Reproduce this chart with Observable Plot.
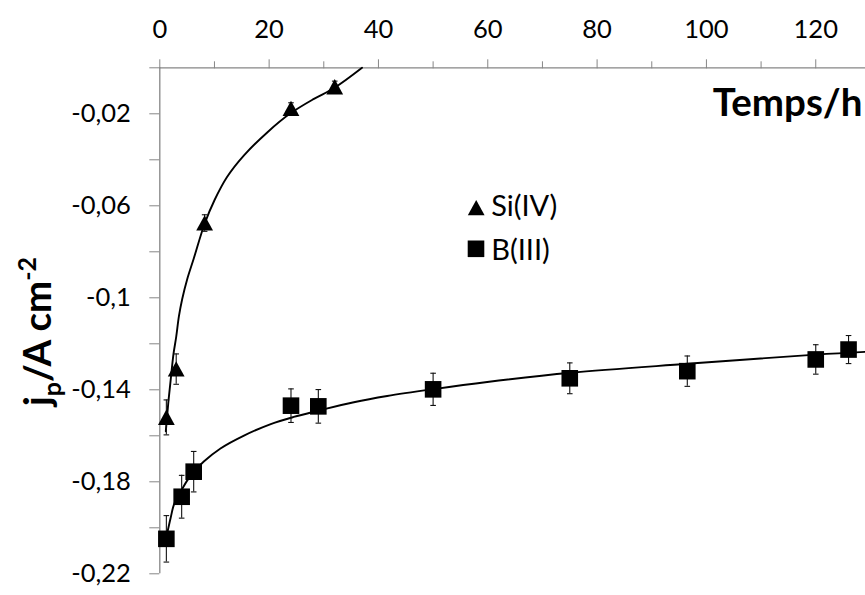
<!DOCTYPE html>
<html>
<head>
<meta charset="utf-8">
<script src="https://cdn.jsdelivr.net/npm/d3@7"></script>
<script src="https://cdn.jsdelivr.net/npm/@observablehq/plot@0.6"></script>
<style>
  html, body { margin: 0; padding: 0; background: #fff; }
  #chart { width: 865px; height: 595px; overflow: hidden; }
</style>
</head>
<body>
<div id="chart"></div>
<script>
// ---- Data ----
const siTime  = [1.2, 3, 8.2, 24, 32];
const siValue = [-0.152, -0.131, -0.0675, -0.0177, -0.0083];
const siError = [0.0076, 0.0066, 0.0036, 0.0025, 0.0025];

const bTime  = [1.2, 4, 6.2, 24, 29, 50, 75, 96.5, 120, 126];
const bValue = [-0.2048, -0.1865, -0.1756, -0.1469, -0.1472, -0.1398, -0.1350, -0.1319, -0.1268, -0.1225];
const bError = [0.0101, 0.0093, 0.0088, 0.0073, 0.0073, 0.0070, 0.0067, 0.0066, 0.0064, 0.0061];

// trend lines, points
const siCurveTime  = [1.1, 1.3, 1.6, 2, 2.5, 3, 3.5, 4.1, 5, 6.2, 8.2, 10, 12.3, 15.4, 19.7, 23.9, 28.2, 31.9, 37];
const siCurveValue = [-0.158, -0.1525, -0.1445, -0.1355, -0.1245, -0.117, -0.108, -0.1005, -0.092, -0.083, -0.0678, -0.0576, -0.0475, -0.0381, -0.028, -0.0198, -0.0135, -0.0088, 0];

const bCurveTime  = [1.2, 2, 2.57, 3.3, 4, 5, 6, 8.05, 11.1, 15.4, 20.3, 24.5, 28.8, 35.5, 41.6, 50.1, 59.9, 75.2, 96.5, 120, 129.1];
const bCurveValue = [-0.204, -0.1955, -0.190, -0.1865, -0.1835, -0.1795, -0.1763, -0.1712, -0.1655, -0.1599, -0.1549, -0.1518, -0.1492, -0.1454, -0.1427, -0.1397, -0.1366, -0.1326, -0.1287, -0.1247, -0.1235];

const xMajorTicks = [0, 20, 40, 60, 80, 100, 120];
const xTickLabels = ["0", "20", "40", "60", "80", "100", "120"];
const xMinorTicks = [10, 30, 50, 70, 90, 110];

const yTickValues = [0, -0.02, -0.04, -0.06, -0.08, -0.1, -0.12, -0.14, -0.16, -0.18, -0.2, -0.22];
const yTickLabels = ["", "-0,02", "", "-0,06", "", "-0,1", "", "-0,14", "", "-0,18", "", "-0,22"];

const seriesNames = ["Si(IV)", "B(III)"];
const xTitle = "Temps/h";
const yTitleParts = [["j", "base"], ["p", "sub"], ["/A cm", "base"], ["-2", "sup"]];
const yTitle = yTitleParts.map(p => p[0]).join("");

// ---- Build ----
const siPts = siTime.map((t, i) => ({t, v: siValue[i], e: siError[i]}));
const bPts  = bTime.map((t, i) => ({t, v: bValue[i], e: bError[i]}));
const siCurve = siCurveTime.map((t, i) => ({t, v: siCurveValue[i]}));
const bCurve  = bCurveTime.map((t, i) => ({t, v: bCurveValue[i]}));

const xLabelMap = new Map(xMajorTicks.map((d, i) => [d, xTickLabels[i]]));
const yLabelMap = new Map(yTickValues.map((d, i) => [d, yTickLabels[i]]));

const triSym = {draw(ctx) { ctx.moveTo(0, -7.8); ctx.lineTo(8.4, 7.5); ctx.lineTo(-8.4, 7.5); ctx.closePath(); }};
const sqSym  = {draw(ctx) { ctx.rect(-8.3, -8.3, 16.6, 16.6); }};
const capSym = {draw(ctx) { ctx.moveTo(-2.8, 0); ctx.lineTo(2.8, 0); }};

const gray = "#868686";

function errorMarks(pts) {
  return [
    Plot.ruleX(pts, {x: "t", y1: d => d.v - d.e, y2: d => d.v + d.e, stroke: "#111", strokeWidth: 1.1}),
    Plot.dot(pts, {x: "t", y: d => d.v + d.e, symbol: capSym, r: 3, stroke: "#111", fill: "none", strokeWidth: 1.1}),
    Plot.dot(pts, {x: "t", y: d => d.v - d.e, symbol: capSym, r: 3, stroke: "#111", fill: "none", strokeWidth: 1.1})
  ];
}

const plot = Plot.plot({
  width: 865,
  height: 595,
  marginLeft: 159.3,
  marginRight: 0,
  marginTop: 67.3,
  marginBottom: 21.7,
  style: {fontFamily: "Lato, 'Open Sans', sans-serif", fontSize: "25px", color: "#000", background: "#fff", overflow: "visible"},
  x: {domain: [0, 129.1], label: null},
  y: {domain: [-0.22, 0], label: null},
  marks: [
    Plot.ruleY([0], {stroke: gray, strokeWidth: 1.3}),
    Plot.ruleX([0], {stroke: gray, strokeWidth: 1.3}),
    Plot.axisX({anchor: "top", ticks: xMinorTicks, tickSize: 7, tickFormat: () => "", stroke: gray, label: null}),
    Plot.axisX({anchor: "top", ticks: xMajorTicks, tickSize: 9, tickPadding: 21, tickFormat: d => xLabelMap.get(d), stroke: gray, fontSize: 25.5, label: null}),
    Plot.axisY({anchor: "left", ticks: yTickValues, tickSize: 10, tickPadding: 19, tickFormat: d => yLabelMap.get(d) ?? "", stroke: gray, fontSize: 25.5, label: null}),

    Plot.line(siCurve, {x: "t", y: "v", curve: "catmull-rom", stroke: "#000", strokeWidth: 1.9}),
    Plot.line(bCurve,  {x: "t", y: "v", curve: "catmull-rom", stroke: "#000", strokeWidth: 1.9}),

    ...errorMarks(siPts),
    ...errorMarks(bPts),

    Plot.dot(siPts, {x: "t", y: "v", symbol: triSym, r: 6, fill: "#000", stroke: "none"}),
    Plot.dot(bPts,  {x: "t", y: "v", symbol: sqSym,  r: 6, fill: "#000", stroke: "none"}),

    // legend inside plot area
    Plot.dot([seriesNames[0]], {frameAnchor: "top-left", symbol: triSym, r: 6, fill: "#000", stroke: "none", dx: 316.4, dy: 140}),
    Plot.dot([seriesNames[1]], {frameAnchor: "top-left", symbol: sqSym,  r: 6, fill: "#000", stroke: "none", dx: 316.2, dy: 181}),
    Plot.text([seriesNames[0]], {frameAnchor: "top-left", text: d => d, textAnchor: "start", lineAnchor: "middle", dx: 331.4, dy: 139, fontSize: 29}),
    Plot.text([seriesNames[1]], {frameAnchor: "top-left", text: d => d, textAnchor: "start", lineAnchor: "middle", dx: 331.4, dy: 183, fontSize: 29}),

    // axis titles
    Plot.text([xTitle], {frameAnchor: "top-right", text: d => d, textAnchor: "end", lineAnchor: "bottom", dx: -3, dy: 48, fontWeight: "bold", fontSize: 38.5}),
    Plot.text([yTitle], {frameAnchor: "left", text: d => d, rotate: -90, textAnchor: "middle", lineAnchor: "bottom", dx: -109.3, dy: 10.7, fontWeight: "bold", fontSize: 38.5})
  ]
});

// subscript / superscript in the y title
plot.querySelectorAll("text").forEach(t => {
  if (t.textContent === yTitle) {
    t.textContent = "";
    const ns = "http://www.w3.org/2000/svg";
    let shift = 0;
    yTitleParts.forEach(([s, kind]) => {
      const ts = document.createElementNS(ns, "tspan");
      ts.textContent = s;
      const target = kind === "sub" ? 10 : kind === "sup" ? -15 : 0;
      ts.setAttribute("dy", String(target - shift));
      shift = target;
      if (kind !== "base") ts.setAttribute("font-size", "25");
      t.appendChild(ts);
    });
  }
});

document.getElementById("chart").appendChild(plot);
</script>
</body>
</html>
